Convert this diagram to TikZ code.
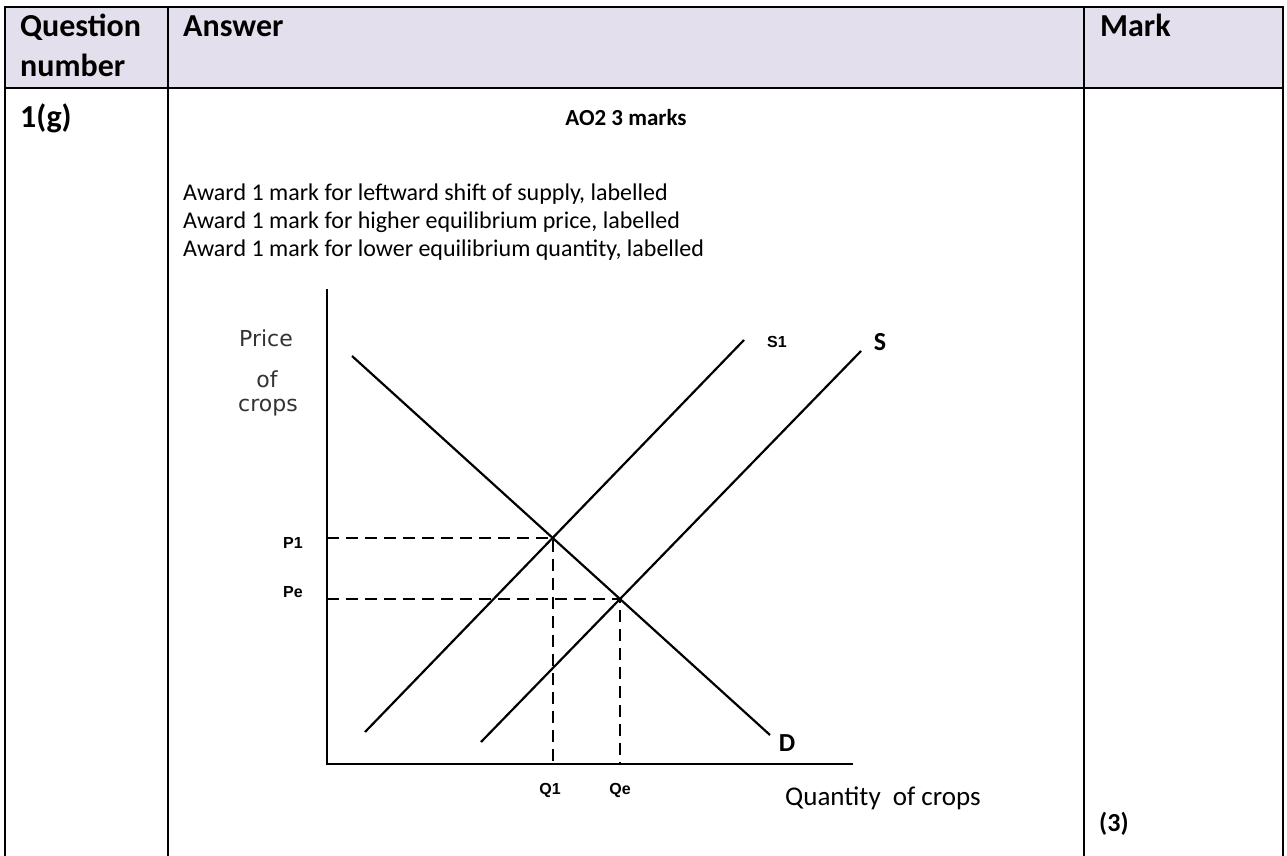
\documentclass[tikz,border=0pt]{standalone}
\usepackage{fontspec}
\setmainfont{Carlito}
\newfontfamily\graphfont{DejaVu Sans}
\newfontfamily\tickfont{Liberation Sans}
\usetikzlibrary{positioning}

\definecolor{headfill}{HTML}{E4DFEC}

\begin{document}
\begin{tikzpicture}[
    x=1pt, y=-1pt,
    frame/.style = {draw=black, line width=2.6pt},
    headtext/.style = {anchor=base west, inner sep=0pt, font=\fontsize{32}{38}\selectfont\bfseries},
    bodytext/.style = {anchor=base west, inner sep=0pt, font=\fontsize{24}{29}\selectfont},
    axistext/.style = {inner sep=0pt, text=black!80, font=\graphfont\fontsize{22}{26}\selectfont},
    ticktext/.style = {inner sep=0pt, font=\tickfont\fontsize{16}{19}\selectfont\bfseries},
    curvetext/.style = {inner sep=0pt, font=\fontsize{26}{30}\selectfont\bfseries},
    curve/.style = {draw=black, line width=2.2pt},
    guide/.style = {draw=black, line width=2.2pt, dash pattern=on 12pt off 7pt}
]
    \useasboundingbox (0,0) rectangle (1287,856);

    % Table
    \fill [headfill] (5,7) rectangle (1283,88);
    \draw [frame] (5,856) -- (5,7) -- (1283,7) -- (1283,856);
    \draw [frame] (5,88) -- (1283,88);
    \draw [frame] (168,7) -- (168,856);
    \draw [frame] (1084,7) -- (1084,856);

    % Header row
    \node [headtext] (qhead) at (20,37) {Question};
    \node [headtext] (qhead2) at (20,77) {number};
    \node [headtext] (ahead) at (183,37) {Answer};
    \node [headtext] (mhead) at (1100,37) {Mark};

    % Answer row
    \node [headtext] (qnum) at (20,128) {1(g)};
    \node [bodytext, anchor=base, font=\fontsize{23}{28}\selectfont\bfseries] (aotitle) at (626,125) {AO2 3 marks};
    \node [bodytext] (award1) at (183,200) {Award 1 mark for leftward shift of supply, labelled};
    \node [bodytext] (award2) at (183,228) {Award 1 mark for higher equilibrium price, labelled};
    \node [bodytext] (award3) at (183,256) {Award 1 mark for lower equilibrium quantity, labelled};
    \node [bodytext, font=\fontsize{26}{30}\selectfont\bfseries] (markval) at (1099,831) {(3)};

    % Axes
    \coordinate (ytop) at (327,289);
    \coordinate (orig) at (327,764);
    \coordinate (xend) at (853,764);
    \draw [curve] (ytop) -- (orig) -- (xend);

    % Curves
    \coordinate (dtop) at (352,356);
    \coordinate (dbot) at (770,735);
    \coordinate (s1bot) at (365,732);
    \coordinate (s1top) at (744,340);
    \coordinate (sbot) at (481,742);
    \coordinate (stop) at (861,351);
    \draw [curve] (dtop) -- (dbot);
    \draw [curve] (s1bot) -- (s1top);
    \draw [curve] (sbot) -- (stop);

    % Equilibria
    \coordinate (eqone) at (intersection of dtop--dbot and s1bot--s1top);
    \coordinate (eqe) at (intersection of dtop--dbot and sbot--stop);
    \draw [guide] (orig |- eqone) -- (eqone) -- (eqone |- orig);
    \draw [guide] (orig |- eqe) -- (eqe) -- (eqe |- orig);

    % Labels
    \node [axistext] (pricelab) at (266,338) {Price};
    \node [axistext] (oflab) at (267,379) {of};
    \node [axistext] (cropslab) at (268,408) {crops};
    \node [ticktext, anchor=east] (plabone) at (303,543) {P1};
    \node [ticktext, anchor=east] (plabe) at (303,592) {Pe};
    \node [ticktext] (qlabone) at (550,790) {Q1};
    \node [ticktext] (qlabe) at (620,790) {Qe};
    \node [ticktext, anchor=west] (slabone) at (767,342) {S1};
    \node [curvetext] (slab) at (880,342) {S};
    \node [curvetext] (dlab) at (787,743) {D};
    \node [bodytext, anchor=west, font=\fontsize{27}{32}\selectfont] (qtylab) at (785,798) {Quantity\ \ of crops};
\end{tikzpicture}
\end{document}
